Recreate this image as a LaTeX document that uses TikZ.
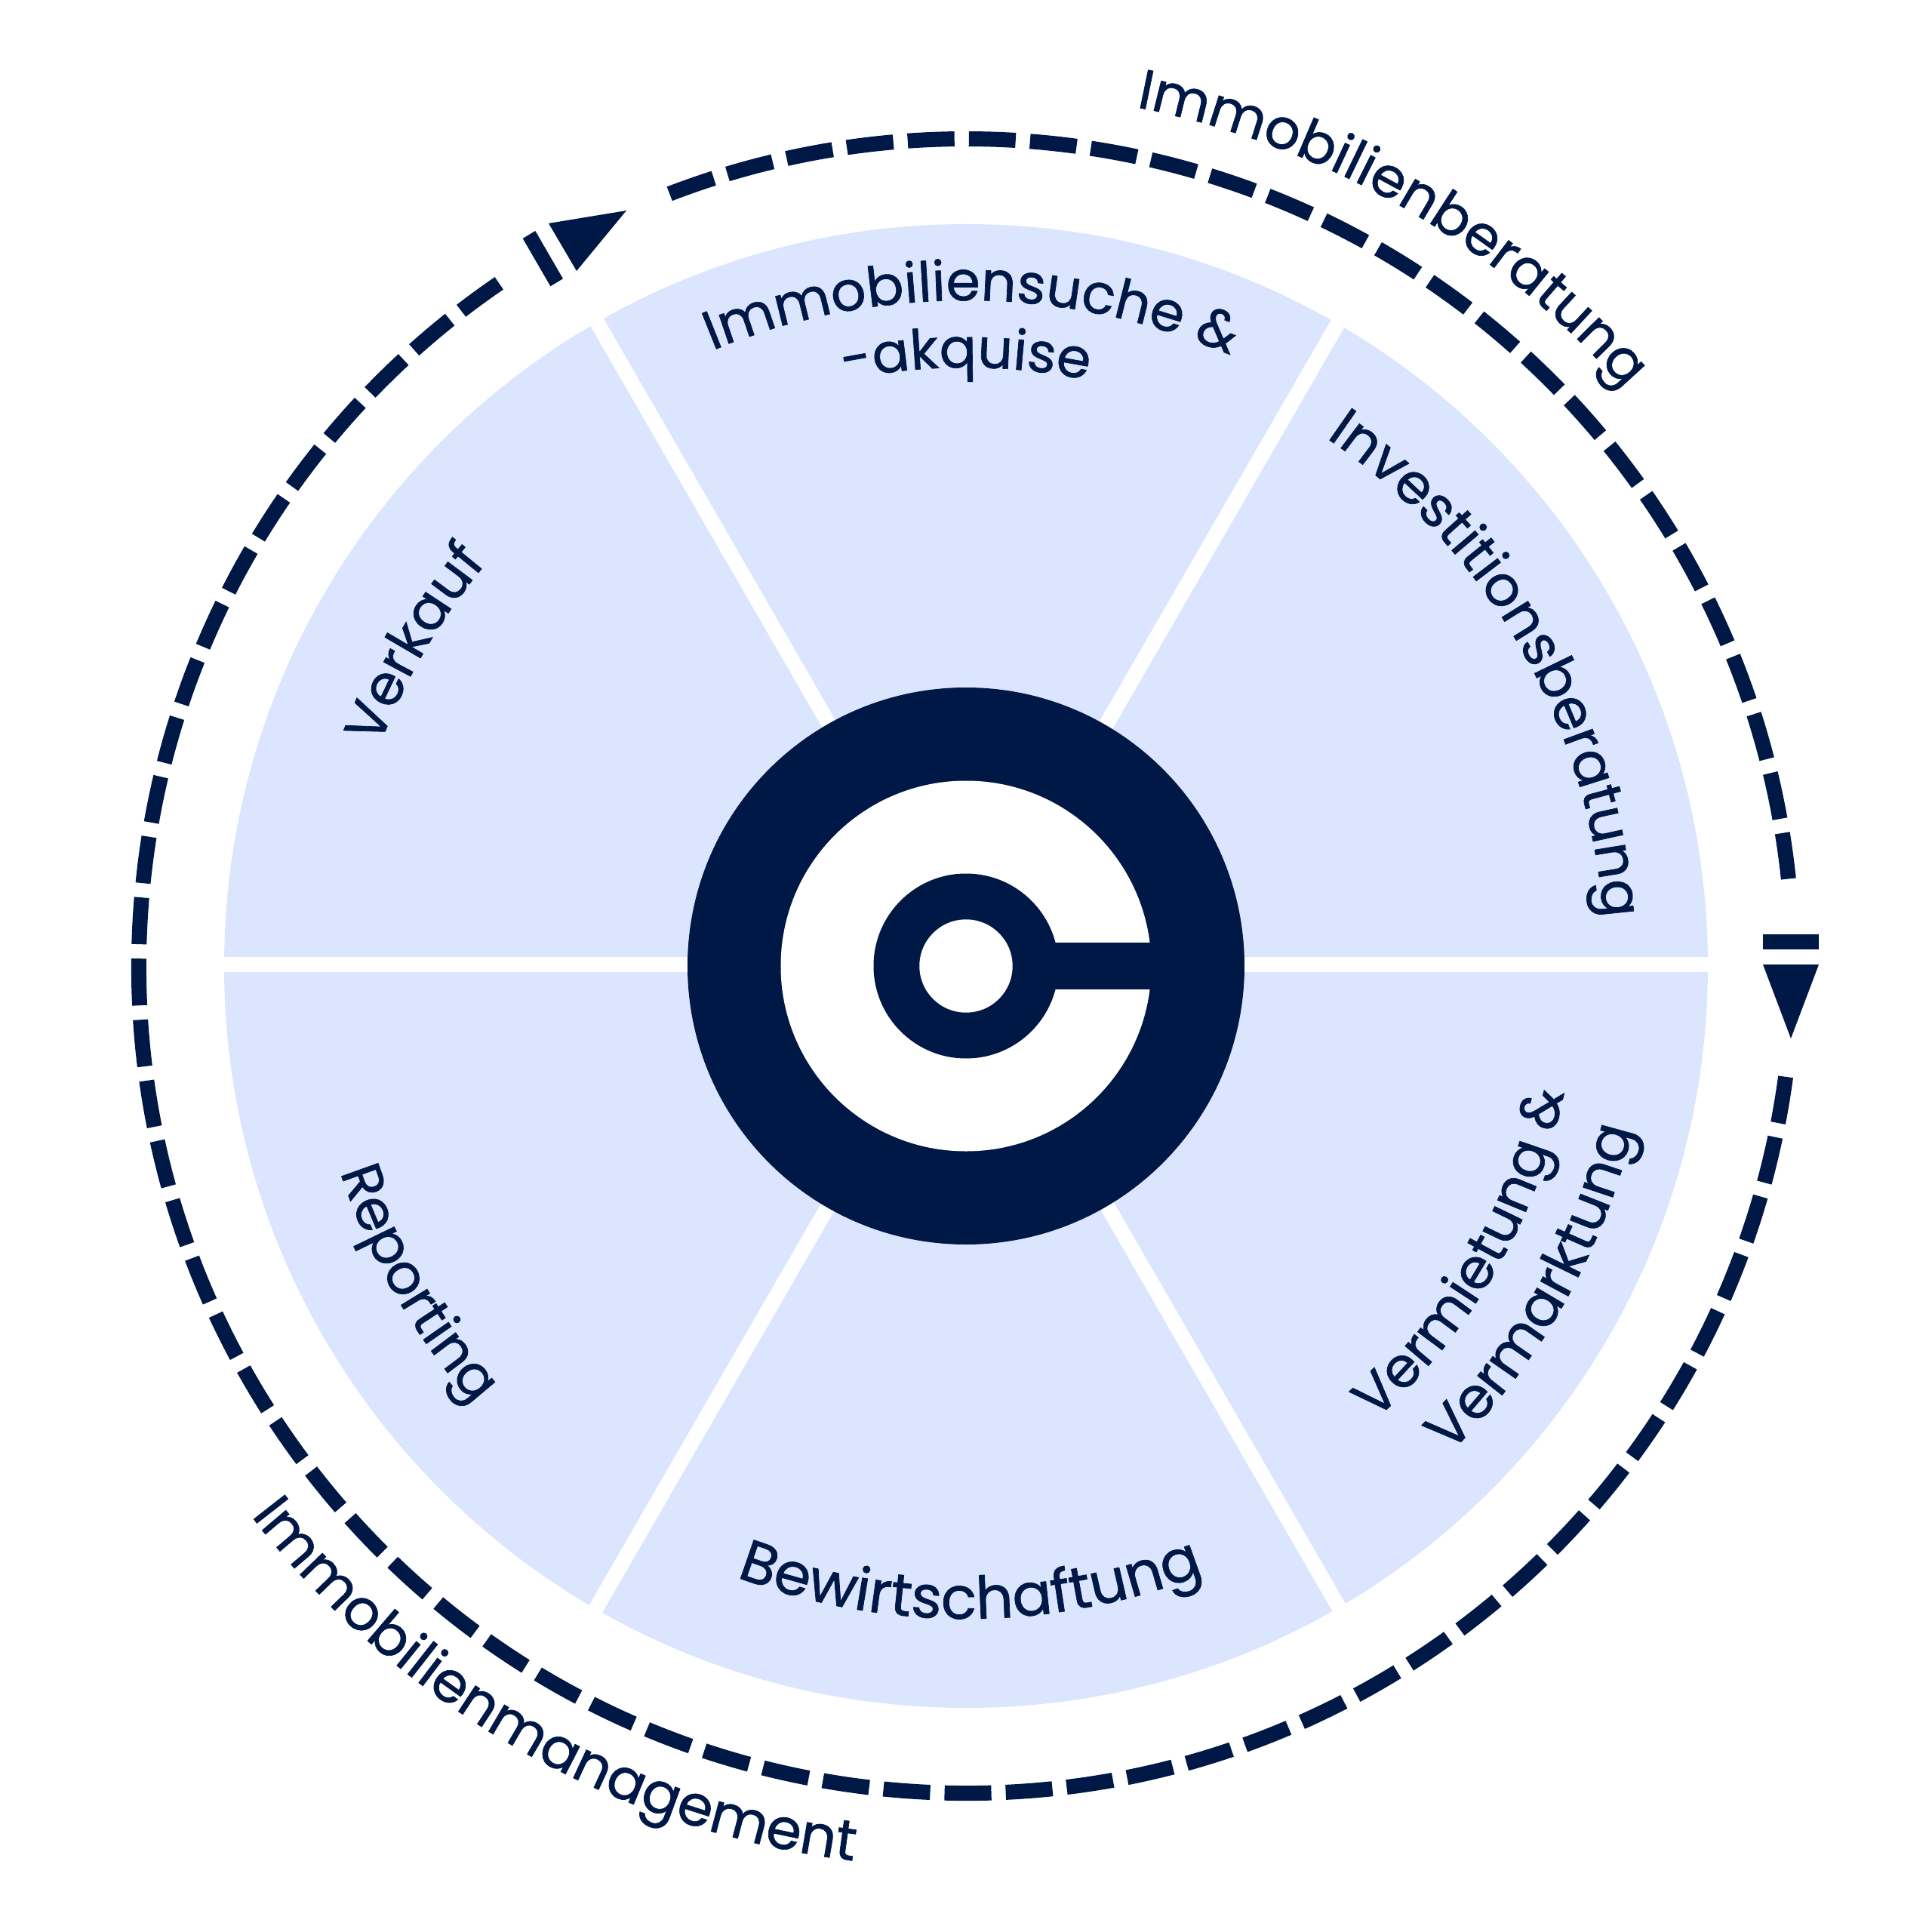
\documentclass[tikz,border=0pt]{standalone}
\usepackage{fontspec}
\setmainfont{Poppins}[FakeBold=0.9]
\usetikzlibrary{decorations.text}
\definecolor{navy}{HTML}{001845}
\definecolor{wheelblue}{HTML}{DBE6FE}
\tikzset{
ringdash/.style={draw=navy, line width=2mm, dash pattern=on 6.2mm off 1.91mm},
spoke/.style={draw=white, line width=2mm},
ringlabel/.style 2 args={decorate, decoration={text along path, text align=center,
  text={|\fontsize{#1mm}{9mm}\selectfont\color{navy}|#2}}},
}
\begin{document}
\begin{tikzpicture}
\useasboundingbox (-12.8,-12.8) rectangle (12.8,12.8);
% wheel
\fill[wheelblue] (0,0) circle[radius=9.83];
\draw[spoke] (-9.9,0.02)--(9.9,0.02);
\draw[spoke] ([shift={(0.026,0.015)}]120:9.9)--([shift={(0.026,0.015)}]-60:9.9);
\draw[spoke] ([shift={(0.009,-0.005)}]60:9.9)--([shift={(0.009,-0.005)}]240:9.9);
% logo
\fill[navy] (0,0) circle[radius=3.69];
\fill[white] (0,0) circle[radius=2.455];
\fill[navy] (0,0) circle[radius=1.225];
\fill[navy] (0,-0.31) rectangle (2.6,0.31);
\fill[white] (0,0) circle[radius=0.617];
% dashed ring
\draw[ringdash] (111:10.96) arc[start angle=111, end angle=6.05, radius=10.96];
\draw[ringdash] (-7.7:10.96) arc[start angle=-7.7, end angle=-235.7, radius=10.96];
% arrows
\fill[navy] (10.56,0.42) rectangle (11.3,0.22);
\fill[navy] (10.56,0.02)--(11.3,0.02)--(10.93,-0.96)--cycle;
\fill[navy] (-5.873,9.64)--(-5.707,9.74)--(-5.34,9.107)--(-5.506,9.007)--cycle;
\fill[navy] (-5.53,9.84)--(-5.16,9.21)--(-4.5,10.01)--cycle;
% labels
\path[ringlabel={7.4}{Immobilienberatung}] (80:11.6) arc[start angle=80, end angle=40, radius=11.6];
\path[ringlabel={7.5}{Immobilienmanagement}] (216.2:11.95) arc[start angle=216.2, end angle=264.2, radius=11.95];
\path[ringlabel={7.3}{Immobiliensuche {\&}}] (114.5:8.82) arc[start angle=114.5, end angle=64.5, radius=8.82];
\path[ringlabel={7.3}{-akquise}] (110:7.93) arc[start angle=110, end angle=70, radius=7.93];
\path[ringlabel={7.4}{Investitionsberatung}] (59:8.47) arc[start angle=59, end angle=1, radius=8.47];
\path[ringlabel={7.4}{Vermietung {\&}}] (-55:8.1) arc[start angle=-55, end angle=-5, radius=8.1];
\path[ringlabel={7.6}{Vermarktung}] (-54.5:9.1) arc[start angle=-54.5, end angle=-4.5, radius=9.1];
\path[ringlabel={7.8}{Bewirtschaftung}] (-114.6:8.65) arc[start angle=-114.6, end angle=-64.6, radius=8.65];
\path[ringlabel={7.4}{Reporting}] (-170:8.73) arc[start angle=-170, end angle=-130, radius=8.73];
\path[ringlabel={7.4}{Verkauf}] (179.7:8.3) arc[start angle=179.7, end angle=119.7, radius=8.3];
\end{tikzpicture}
\end{document}
